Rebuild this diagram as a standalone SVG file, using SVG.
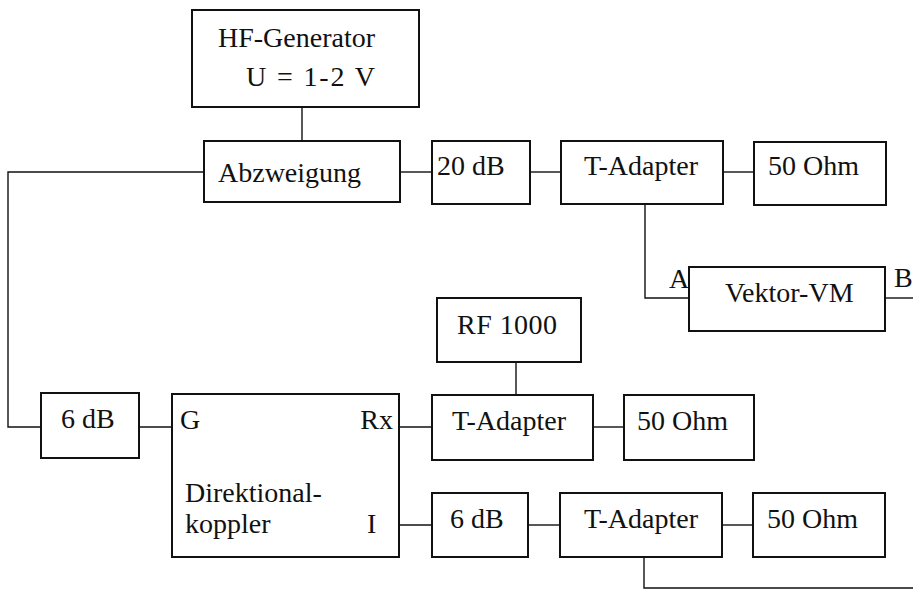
<svg xmlns="http://www.w3.org/2000/svg" width="913" height="592" viewBox="0 0 913 592" font-family="'Liberation Serif', 'DejaVu Serif', serif" font-size="28">
<defs>
<style>
  .box { fill: #fff; stroke: #111; stroke-width: 2; }
  .wire { fill: none; stroke: #111; stroke-width: 1.4; }
  .t { font-family: 'Liberation Serif', 'DejaVu Serif', serif; font-size: 28px; fill: #111; }
</style>
</defs>
<rect width="913" height="592" fill="#fff"/>
<g id="connectors">
  <path class="wire" d="M302 107 V141"/>
  <path class="wire" d="M204 172 H8 V427 H41"/>
  <path class="wire" d="M400 172 H432"/>
  <path class="wire" d="M530 172 H561"/>
  <path class="wire" d="M723 172 H754"/>
  <path class="wire" d="M645 204 V298 H689"/>
  <path class="wire" d="M885 298 H913"/>
  <path class="wire" d="M139 427 H172"/>
  <path class="wire" d="M516 362 V395"/>
  <path class="wire" d="M399 427 H432"/>
  <path class="wire" d="M593 427 H624"/>
  <path class="wire" d="M399 525 H432"/>
  <path class="wire" d="M528 525 H560"/>
  <path class="wire" d="M722 525 H753"/>
  <path class="wire" d="M644 557 V588 H913"/>
</g>
<g id="hf-generator">
  <rect class="box" x="192" y="10" width="227" height="97"/>
  <text class="t" x="218" y="47">HF-Generator</text>
  <text class="t" x="246" y="86" textLength="129" lengthAdjust="spacing">U = 1-2 V</text>
</g>
<g id="abzweigung">
  <rect class="box" x="204" y="141" width="196" height="61"/>
  <text class="t" x="218" y="182">Abzweigung</text>
</g>
<g id="att20">
  <rect class="box" x="432" y="141" width="98" height="63"/>
  <text class="t" x="437" y="175">20 dB</text>
</g>
<g id="tadapter1">
  <rect class="box" x="561" y="141" width="162" height="63"/>
  <text class="t" x="584" y="175">T-Adapter</text>
</g>
<g id="ohm1">
  <rect class="box" x="754" y="142" width="132" height="63"/>
  <text class="t" x="768" y="175">50 Ohm</text>
</g>
<g id="vektor-vm">
  <rect class="box" x="689" y="267" width="196" height="64"/>
  <text class="t" x="725" y="302">Vektor-VM</text>
  <text class="t" x="669" y="288">A</text>
  <text class="t" x="894" y="287">B</text>
</g>
<g id="rf1000">
  <rect class="box" x="437" y="298" width="144" height="64"/>
  <text class="t" x="457" y="334" textLength="100" lengthAdjust="spacing">RF 1000</text>
</g>
<g id="att6a">
  <rect class="box" x="41" y="393" width="98" height="65"/>
  <text class="t" x="61" y="428">6 dB</text>
</g>
<g id="koppler">
  <rect class="box" x="172" y="394" width="227" height="163"/>
  <text class="t" x="180" y="429">G</text>
  <text class="t" x="393" y="429" text-anchor="end">Rx</text>
  <text class="t" x="185" y="502">Direktional-</text>
  <text class="t" x="185" y="533">koppler</text>
  <text class="t" x="367" y="533">I</text>
</g>
<g id="tadapter2">
  <rect class="box" x="432" y="395" width="161" height="65"/>
  <text class="t" x="452" y="430">T-Adapter</text>
</g>
<g id="ohm2">
  <rect class="box" x="624" y="395" width="130" height="65"/>
  <text class="t" x="637" y="430">50 Ohm</text>
</g>
<g id="att6b">
  <rect class="box" x="432" y="493" width="96" height="64"/>
  <text class="t" x="450" y="528">6 dB</text>
</g>
<g id="tadapter3">
  <rect class="box" x="560" y="493" width="162" height="64"/>
  <text class="t" x="584" y="528">T-Adapter</text>
</g>
<g id="ohm3">
  <rect class="box" x="753" y="493" width="132" height="64"/>
  <text class="t" x="767" y="528">50 Ohm</text>
</g>
</svg>
